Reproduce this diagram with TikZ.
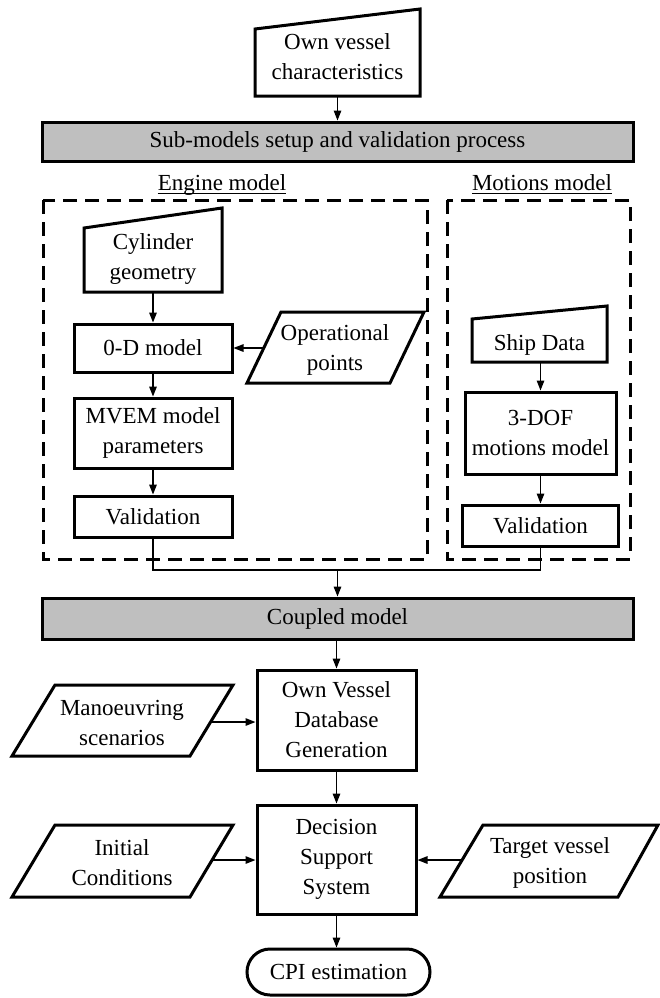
\documentclass[tikz,border=0pt]{standalone}
\usepackage{fontspec}
\setmainfont{Liberation Serif}
\usetikzlibrary{arrows.meta,calc}
\begin{document}
\begin{tikzpicture}[x=1pt,y=-1pt,
  every node/.style={font=\fontsize{23}{30}\selectfont, align=center, inner sep=0pt},
  bx/.style={draw, line width=3pt},
  outl/.style={draw, line width=3pt, line join=miter},
  bar/.style={draw, line width=3pt, fill=black!25, minimum width=591pt},
  dashbox/.style={draw, line width=3pt, dash pattern=on 14pt off 8pt},
  conn/.style={draw, line width=1.4pt, -{Triangle[length=10pt,width=7.5pt]}},
  thinl/.style={draw, line width=1.4pt}
]
\useasboundingbox (0,0) rectangle (659,998);

% top input
\draw[outl] (255,29) -- (420,9) -- (420,96) -- (255,96) -- cycle;
\node (own) at (337.5,57) {Own vessel\\characteristics};
\coordinate (ownB) at (337.5,96);

\node[bar, minimum height=39pt] (sub) at (337.5,141.5) {Sub-models setup and validation process};
\draw[conn] (ownB) -- (sub.north);

% labels
\node[anchor=base] (eng) at (222,190) {Engine model};
\draw[line width=1.3pt] ($(eng.base west)+(0,3.5)$) -- ($(eng.base east)+(0,3.5)$);
\node[anchor=base] (mot) at (542,190) {Motions model};
\draw[line width=1.3pt] ($(mot.base west)+(0,3.5)$) -- ($(mot.base east)+(0,3.5)$);

% dashed groups
\draw[dashbox] (43,200) rectangle (427,559);
\draw[dashbox] (447,200) rectangle (630,559);

% engine model chain
\draw[outl] (84,228) -- (222,208) -- (222,292) -- (84,292) -- cycle;
\node (cyl) at (153,259) {Cylinder\\geometry};
\coordinate (cylB) at (153,292);

\node[bx, minimum width=158pt, minimum height=48pt] (zero) at (153,348) {0-D model};
\node[bx, minimum width=158pt, minimum height=70pt] (mvem) at (153,433) {MVEM model\\parameters};
\node[bx, minimum width=158pt, minimum height=41pt] (valL) at (153,516.5) {Validation};

\draw[outl] (281,312) -- (424,312) -- (390,383) -- (247,383) -- cycle;
\node (op) at (335,350) {Operational\\points};
\coordinate (opL) at (264,348);

\draw[conn] (cylB) -- (zero.north);
\draw[conn] (opL) -- (zero.east);
\draw[conn] (zero.south) -- (mvem.north);
\draw[conn] (mvem.south) -- (valL.north);

% motions model chain
\draw[outl] (472,319) -- (607,306) -- (607,362) -- (472,362) -- cycle;
\node (ship) at (539.5,345) {Ship Data};
\coordinate (shipB) at (540.5,362);
\node[bx, minimum width=151pt, minimum height=82pt] (dof) at (540.5,433) {3-DOF\\motions model};
\node[bx, minimum width=156pt, minimum height=41pt] (valR) at (540.5,525.5) {Validation};
\draw[conn] (shipB) -- (dof.north);
\draw[conn] (dof.south) -- (valR.north);

% merge
\node[bar, minimum height=41pt] (cpl) at (337.5,618.5) {Coupled model};
\coordinate (merge) at (337.5,570);
\draw[thinl] (valL.south) |- (merge) -| (valR.south);
\draw[conn] (merge) -- (cpl.north);

% lower part
\node[bx, minimum width=159pt, minimum height=100pt] (ovdg) at (336.5,720) {Own Vessel\\Database\\Generation};
\draw[conn] (cpl.south -| ovdg.north) -- (ovdg.north);

\draw[outl] (55,685) -- (233,685) -- (190,756) -- (12,756) -- cycle;
\node (man) at (122,723) {Manoeuvring\\scenarios};
\coordinate (manR) at (211,722);
\draw[conn] (manR) -- (manR -| ovdg.west);

\node[bx, minimum width=159pt, minimum height=109pt] (dss) at (336.5,859.5) {Decision\\Support\\System};
\draw[conn] (ovdg.south) -- (dss.north);

\draw[outl] (55,825) -- (233,825) -- (190,897) -- (12,897) -- cycle;
\node (init) at (122,863) {Initial\\Conditions};
\coordinate (initR) at (211,860);
\draw[conn] (initR) -- (initR -| dss.west);

\draw[outl] (483,825) -- (658,825) -- (618,897) -- (440,897) -- cycle;
\node (tgt) at (550,863) {Target vessel\\position};
\coordinate (tgtL) at (462,860);
\draw[conn] (tgtL) -- (tgtL -| dss.east);

\node[bx, rounded corners=23pt, minimum width=183pt, minimum height=46pt] (cpi) at (338.5,972) {CPI estimation};
\draw[conn] (dss.south) -- (dss.south |- cpi.north);

\end{tikzpicture}
\end{document}
